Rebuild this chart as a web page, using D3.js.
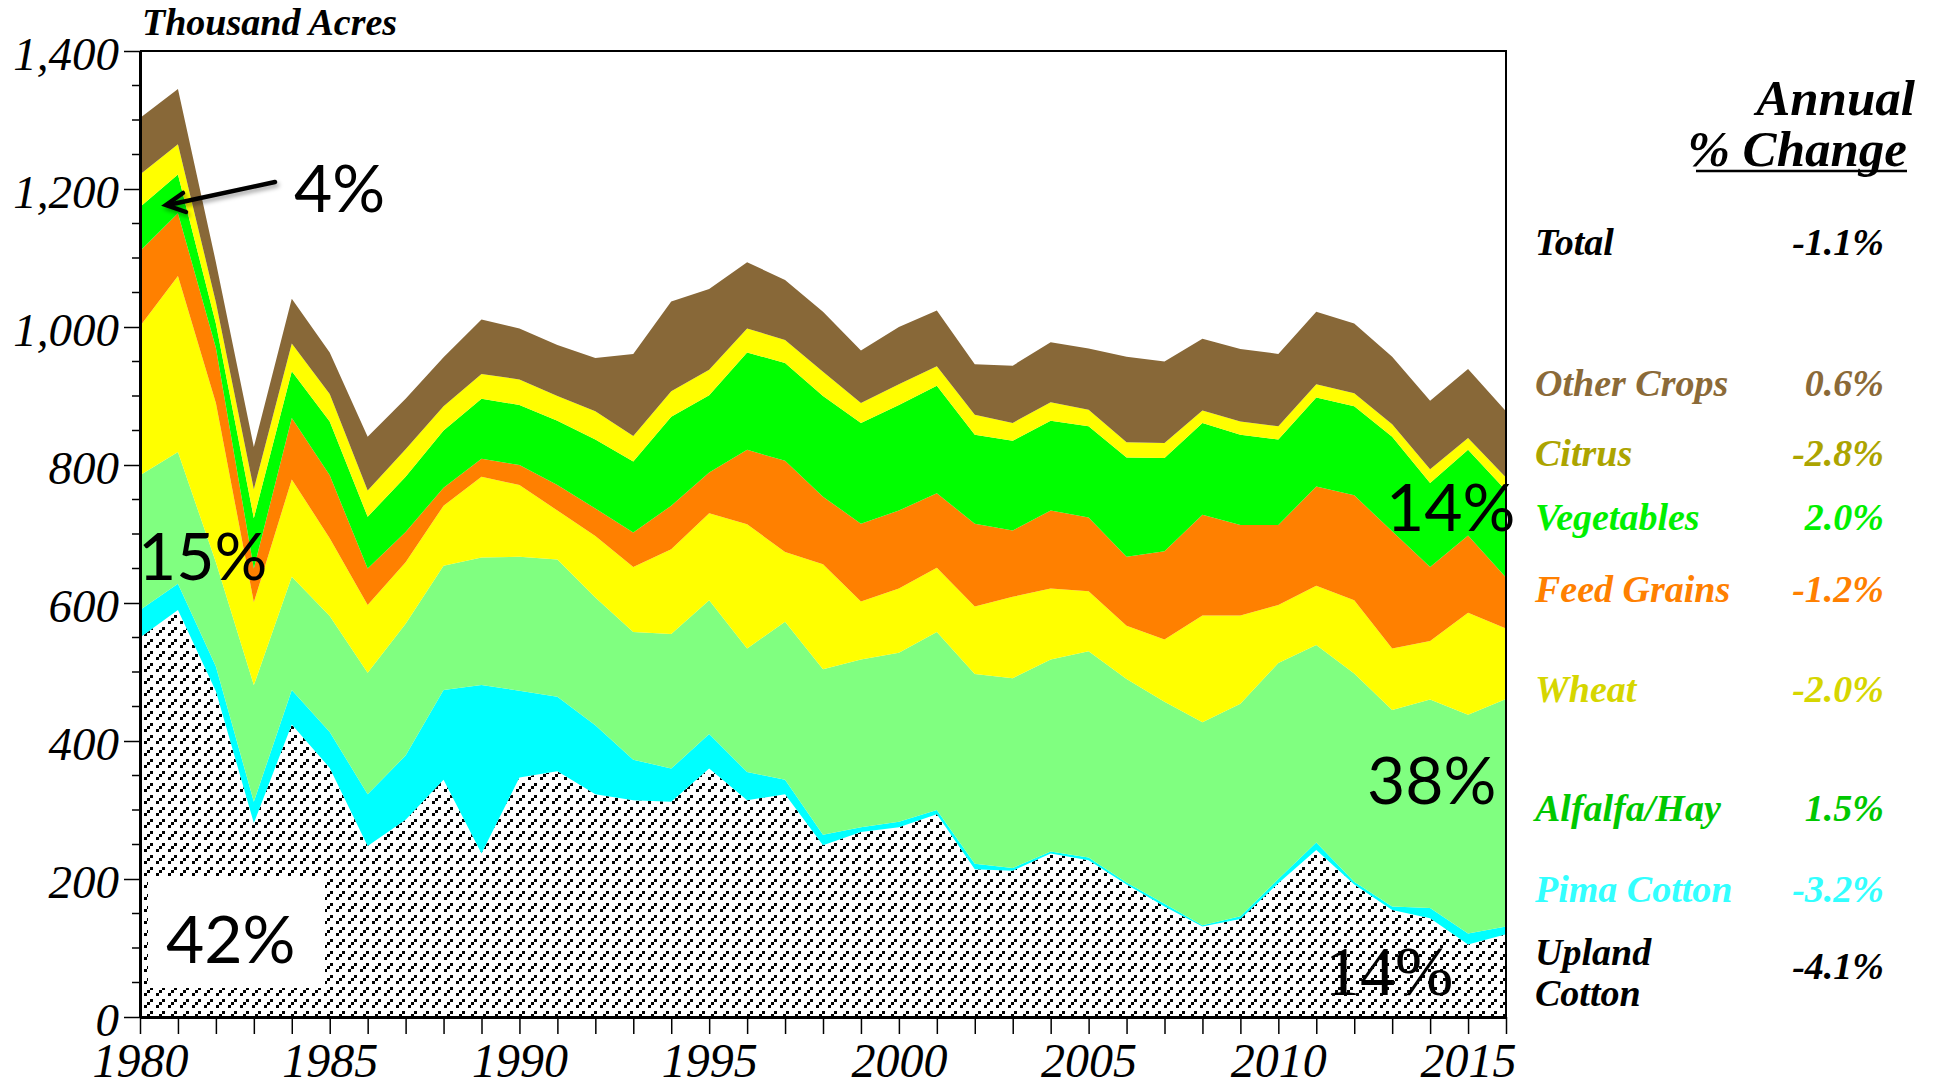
<!DOCTYPE html>
<html>
<head>
<meta charset="utf-8">
<script src="https://cdn.jsdelivr.net/npm/d3@7"></script>
<style>
  body { margin: 0; background: #fff; }
  svg text { font-family: "Liberation Serif", "Times New Roman", serif; }
</style>
</head>
<body>
<svg id="chart" width="1936" height="1084"></svg>
<script>
// acreage by crop, thousand acres, 1980-2016
var years = [1980,1981,1982,1983,1984,1985,1986,1987,1988,1989,1990,1991,1992,1993,1994,1995,1996,1997,1998,
             1999,2000,2001,2002,2003,2004,2005,2006,2007,2008,2009,2010,2011,2012,2013,2014,2015,2016];

var upland  = [550,590,472,281,424,361,248,286,344,237,347,356,323,314,312,360,314,323,249,268,275,294,214,212,237,227,192,160,131,142,194,242,192,155,143,105,120];
var pima    = [40,38,36,31,50,52,75,93,130,244,126,108,100,59,48,50,41,21,15,7,8,6,8,4,3,4,3,4,2,4,6,11,4,5,15,16,11];
var alfalfa = [195,191,151,169,164,168,176,191,180,185,194,199,185,185,195,194,179,229,240,243,245,258,275,275,278,299,295,293,294,308,313,286,302,285,302,317,330];
var wheat   = [216,255,231,120,141,113,98,89,87,117,104,71,89,94,123,126,180,101,152,84,93,93,98,118,103,87,77,90,155,128,84,86,106,89,85,148,102];
var feed    = [109,91,80,49,89,91,53,44,26,26,29,37,40,50,63,59,108,132,98,113,113,108,120,96,113,107,100,128,146,131,116,144,152,170,107,112,74];
var veg     = [64,56,35,73,68,78,75,80,83,87,87,93,100,103,129,112,141,142,146,146,153,156,129,130,130,132,144,135,133,131,124,129,129,137,122,124,126];
var citrus  = [47,44,31,42,40,40,38,40,35,36,37,36,41,37,37,37,35,33,35,29,30,28,29,26,27,24,22,22,18,19,19,19,19,18,20,17,19];
var other   = [82,80,58,61,65,60,78,73,71,79,74,74,77,119,130,117,96,87,87,76,83,81,73,83,87,89,124,118,104,105,105,105,101,98,99,100,96];

var keys   = ["upland", "pima", "alfalfa", "wheat", "feed", "veg", "citrus", "other"];
var fills  = ["url(#hatch)", "#00ffff", "#80ff80", "#ffff00", "#ff8000", "#00ff00", "#ffff00", "#886838"];

var yTicks = [0, 200, 400, 600, 800, 1000, 1200, 1400];
var xTicks = [1980, 1985, 1990, 1995, 2000, 2005, 2010, 2015];

var legendNames  = ["Total", "Other Crops", "Citrus", "Vegetables", "Feed Grains", "Wheat", "Alfalfa/Hay", "Pima Cotton", "Upland|Cotton"];
var legendValues = ["-1.1%", "0.6%", "-2.8%", "2.0%", "-1.2%", "-2.0%", "1.5%", "-3.2%", "-4.1%"];
var legendColors = ["#000", "#8b6a38", "#aca400", "#00f000", "#ff8000", "#d6d600", "#00c800", "#33ffff", "#000"];

var rows = years.map(function (y, i) {
  return { year: y, upland: upland[i], pima: pima[i], alfalfa: alfalfa[i], wheat: wheat[i],
           feed: feed[i], veg: veg[i], citrus: citrus[i], other: other[i] };
});

var plotL = 140, plotR = 1506, plotT = 51, plotB = 1017;

var svg = d3.select("#chart");

var x = d3.scaleLinear().domain([1980, 2016]).range([plotL, plotR]);
var y = d3.scaleLinear().domain([0, 1400]).range([plotB, plotT]);

var defs = svg.append("defs");
// dashed upward diagonal hatch for upland cotton: staircase of squares, one left out per tile
var pat = defs.append("pattern")
  .attr("id", "hatch")
  .attr("patternUnits", "userSpaceOnUse")
  .attr("width", 12).attr("height", 12);
pat.append("rect").attr("width", 12).attr("height", 12).attr("fill", "#fff");
[[0, 9], [3, 6], [6, 3]].forEach(function (p) {
  pat.append("rect").attr("x", p[0]).attr("y", p[1]).attr("width", 3).attr("height", 3).attr("fill", "#000");
});

var shadow = defs.append("filter").attr("id", "shadow")
  .attr("x", "-20%").attr("y", "-50%").attr("width", "140%").attr("height", "200%");
shadow.append("feDropShadow").attr("dx", 2).attr("dy", 3).attr("stdDeviation", 2)
  .attr("flood-color", "#000").attr("flood-opacity", 0.35);

var series = d3.stack().keys(keys)(rows);

var area = d3.area()
  .x(function (d) { return x(d.data.year); })
  .y0(function (d) { return y(d[0]); })
  .y1(function (d) { return y(d[1]); });

svg.append("g").selectAll("path")
  .data(series)
  .enter()
  .append("path")
  .attr("d", area)
  .attr("fill", function (d, i) { return fills[i]; });

// white box behind 42%
svg.append("rect").attr("x", 148).attr("y", 879).attr("width", 177).attr("height", 109).attr("fill", "#fff");

// frame
svg.append("path")
  .attr("d", "M" + plotL + "," + plotT + "H" + plotR + "V" + plotB)
  .attr("fill", "none").attr("stroke", "#000").attr("stroke-width", 2);

// y axis
var yAxis = d3.axisLeft(y).tickValues(yTicks).tickSize(16).tickSizeOuter(0).tickFormat(d3.format(","));
var gy = svg.append("g").attr("transform", "translate(" + plotL + ",0)").call(yAxis);
gy.select(".domain").attr("stroke-width", 3);
gy.selectAll(".tick line").attr("stroke-width", 1.5);
gy.selectAll(".tick text")
  .attr("x", -21).attr("dy", "0.40em")
  .style("font-family", "'Liberation Serif', serif")
  .style("font-style", "italic")
  .style("font-size", "47px")
  .attr("fill", "#000");

var minorY = d3.range(0, 1401, 50).filter(function (v) { return v % 200 !== 0; });
svg.append("g").selectAll("line").data(minorY).enter().append("line")
  .attr("x1", plotL - 8).attr("x2", plotL)
  .attr("y1", function (d) { return y(d); }).attr("y2", function (d) { return y(d); })
  .attr("stroke", "#000").attr("stroke-width", 1.5);

// x axis
var xAxis = d3.axisBottom(x).tickValues(years).tickSize(17).tickSizeOuter(0)
  .tickFormat(function (d) { return xTicks.indexOf(d) >= 0 ? d : ""; });
var gx = svg.append("g").attr("transform", "translate(0," + plotB + ")").call(xAxis);
gx.select(".domain").attr("stroke-width", 3);
gx.selectAll(".tick line").attr("stroke-width", 1.5);
gx.selectAll(".tick text")
  .attr("y", 26).attr("dy", "0.71em")
  .style("font-family", "'Liberation Serif', serif")
  .style("font-style", "italic")
  .style("font-size", "48px")
  .attr("fill", "#000");

// unit title
svg.append("text").attr("x", 142).attr("y", 35)
  .style("font-weight", "bold").style("font-style", "italic").style("font-size", "38px")
  .text("Thousand Acres");

// share annotations
var pct = svg.append("g").attr("fill", "#000");
[["4%", 294, 212], ["15%", 138, 580], ["14%", 1386, 531], ["38%", 1367, 804], ["42%", 166, 963]].forEach(function (a) {
  pct.append("text").attr("x", a[1]).attr("y", a[2])
    .style("font-family", "Lato, 'Open Sans', sans-serif").style("font-size", "66px").text(a[0]);
});
svg.append("text").attr("x", 1325).attr("y", 995)
  .style("font-size", "70px").attr("fill", "#000").text("14%");

// arrow to vegetables 1980
var arrow = svg.append("g").attr("filter", "url(#shadow)")
  .attr("stroke", "#000").attr("stroke-width", 4.5).attr("fill", "none").attr("stroke-linecap", "round");
arrow.append("line").attr("x1", 275).attr("y1", 182).attr("x2", 168).attr("y2", 205);
arrow.append("path").attr("d", "M183,193 L166,205 L186,212");

// legend
var lx = 1535, vx = 1884;
svg.append("text").attr("x", 1915).attr("y", 115).attr("text-anchor", "end")
  .style("font-weight", "bold").style("font-style", "italic").style("font-size", "51px").text("Annual");
svg.append("text").attr("x", 1907).attr("y", 166).attr("text-anchor", "end")
  .style("font-weight", "bold").style("font-style", "italic").style("font-size", "51px").text("% Change");
svg.append("line").attr("x1", 1696).attr("x2", 1907).attr("y1", 171).attr("y2", 171)
  .attr("stroke", "#000").attr("stroke-width", 2.5);

var legendY = [255, 396, 466, 530, 602, 702, 821, 902, 965];
var valueY  = [255, 396, 466, 530, 602, 702, 821, 902, 979];

legendNames.forEach(function (name, i) {
  var parts = name.split("|");
  var t = svg.append("text").attr("x", lx).attr("y", legendY[i])
    .style("font-weight", "bold").style("font-style", "italic").style("font-size", "38px")
    .attr("fill", legendColors[i]);
  parts.forEach(function (p, j) {
    t.append("tspan").attr("x", lx).attr("dy", j === 0 ? 0 : 41).text(p);
  });
  svg.append("text").attr("x", vx).attr("y", valueY[i]).attr("text-anchor", "end")
    .style("font-weight", "bold").style("font-style", "italic").style("font-size", "38px")
    .attr("fill", legendColors[i]).text(legendValues[i]);
});
</script>
</body>
</html>
